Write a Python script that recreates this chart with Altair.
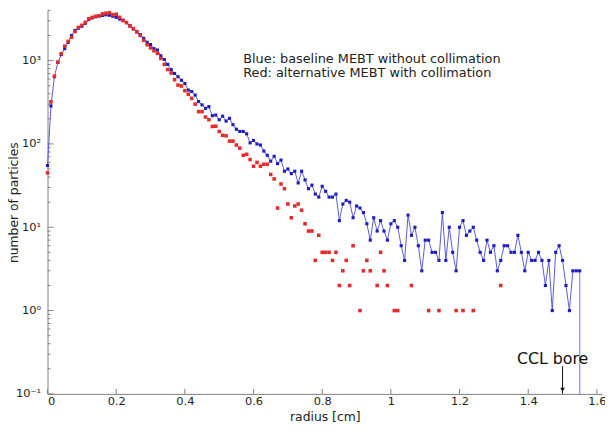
import altair as alt
import pandas as pd

# ---------------- data ----------------
BIN_WIDTH = 0.01  # histogram bin width [cm]

# Blue: baseline MEBT without collimation, bins 0.00 ... 1.55 cm
blue_counts = [
    55, 285, 640, 950, 1180, 1390, 1650, 2000, 2300, 2450,
    2580, 2800, 3100, 3250, 3350, 3420, 3480, 3540, 3500, 3400,
    3300, 3150, 3050, 2850, 2620, 2400, 2200, 2050, 1850, 1660,
    1560, 1390, 1340, 1140, 1030, 900, 780, 700, 640, 580,
    530, 443, 425, 385, 322, 294, 267, 280, 218, 222,
    195, 215, 188, 203, 170, 150, 141, 141, 132, 103,
    110, 100, 97, 82, 73, 62, 71, 58, 64, 47,
    50, 44, 47, 34, 47, 37, 29, 32, 25, 23,
    31, 27, 23, 23, 25, 12, 19, 21, 20, 13,
    18, 17, 15, 11, 7, 13, 9, 12, 9, 7,
    11, 12, 10, 6, 4, 14, 8, 10, 6, 3,
    7, 7, 5, 5, 4, 15, 4, 10, 5, 3,
    10, 12, 8, 9, 10, 7, 5, 4, 7, 5,
    6, 3, 4, 6, 6, 5, 5, 8, 5, 3,
    5, 4, 4, 5, 4, 2, 4, 1, 5, 6,
    4, 2, 1, 3, 3, 3,
]

# Red: alternative MEBT with collimation, bins 0.00 ... 0.89 cm (all non-empty)
red_dense_counts = [
    45, 320, 650, 960, 1210, 1490, 1700, 1900, 2230, 2500,
    2650, 2880, 3170, 3300, 3400, 3450, 3630, 3700, 3750, 3550,
    3600, 3300, 3020, 2860, 2600, 2420, 2230, 2000, 1750, 1550,
    1420, 1310, 1220, 1060, 900, 780, 710, 590, 508, 495,
    435, 395, 352, 300, 244, 244, 210, 195, 162, 163,
    141, 127, 125, 108, 108, 97, 89, 73, 75, 65,
    54, 60, 54, 57, 57, 43, 38, 17, 33, 29,
    19, 13, 18, 19, 16, 11, 9, 9, 4, 8,
    5, 5, 5, 4, 5, 2, 3, 4, 2, 6,
]
# Red tail: only the non-empty bins beyond 0.90 cm
red_sparse_radius = [0.91, 0.92, 0.93, 0.94, 0.96, 0.97, 0.98, 0.99,
                     1.01, 1.02, 1.06, 1.11, 1.14, 1.19, 1.21, 1.24, 1.32]
red_sparse_counts = [1, 3, 4, 3, 2, 5, 3, 2,
                     1, 1, 2, 1, 1, 1, 1, 1, 2]

x_tick_values = [0, 0.2, 0.4, 0.6, 0.8, 1.0, 1.2, 1.4, 1.6]
y_major_values = [0.1, 1, 10, 100, 1000]
y_major_labels = ["10⁻¹", "10⁰", "10¹", "10²", "10³"]
y_minor_multipliers = [2, 3, 4, 5, 6, 7, 8, 9]

legend_lines = ["Blue: baseline MEBT without collimation",
                "Red: alternative MEBT with collimation"]
bore_label = "CCL bore"
bore_radius = 1.5

# ---------------- tables ----------------
blue_df = pd.DataFrame({
    "r": [round(i * BIN_WIDTH, 2) for i in range(len(blue_counts))],
    "n": blue_counts,
})
red_df = pd.DataFrame({
    "r": [round(i * BIN_WIDTH, 2) for i in range(len(red_dense_counts))] + red_sparse_radius,
    "n": red_dense_counts + red_sparse_counts,
})
last_blue = blue_df.tail(1)

Y_MIN, Y_MAX = 0.1, 4000
X_MIN, X_MAX = 0.0, 1.615
PLOT_W, PLOT_H = 561, 388

minor_vals = [m * v for v in y_major_values for m in y_minor_multipliers if m * v <= Y_MAX]
yminor_df = pd.DataFrame({"n": minor_vals})
ymajor_df = pd.DataFrame({"n": y_major_values})
xtick_df = pd.DataFrame({"r": x_tick_values})

legend_df = pd.DataFrame({"r": [0.57, 0.57], "n": [1041, 702], "t": legend_lines})
bore_text_df = pd.DataFrame({"r": [1.367], "n": [0.26], "t": [bore_label]})
arrow_df = pd.DataFrame({"r": [bore_radius], "n": [0.215], "n2": [0.1]})
arrowhead_df = pd.DataFrame({"r": [bore_radius], "n": [0.112]})

# ---------------- scales / axes ----------------
FONT = "DejaVu Sans"
AXIS_GRAY = "#808080"
TEXT = "#222222"

label_expr = ""
for v, lab in zip(y_major_values, y_major_labels):
    label_expr += f"datum.value < {v * 3} ? '{lab}' : "
label_expr += "''"

x_scale = alt.Scale(domain=[X_MIN, X_MAX], nice=False, zero=False)
y_scale = alt.Scale(type="log", domain=[Y_MIN, Y_MAX], nice=False)

x_axis = alt.Axis(
    values=x_tick_values, format="~g", ticks=False, tickSize=0, grid=False,
    domainColor=AXIS_GRAY, domainWidth=1,
    labelFont=FONT, labelFontSize=11.5, labelColor=TEXT, labelPadding=2,
    title="radius [cm]", titleFont=FONT, titleFontSize=12.5, titleFontWeight="normal",
    titleColor=TEXT, titleY=22.5, titleBaseline="middle",
)
y_axis = alt.Axis(
    values=y_major_values, labelExpr=label_expr, ticks=False, tickSize=0, grid=False,
    domainColor=AXIS_GRAY, domainWidth=1,
    labelFont=FONT, labelFontSize=11.5, labelColor=TEXT, labelPadding=7,
    title="number of particles", titleFont=FONT, titleFontSize=12.5,
    titleFontWeight="normal", titleColor=TEXT,
    titleX=-34, titleY=194, titleAngle=270, titleAlign="center", titleBaseline="middle",
)

X = alt.X("r:Q", scale=x_scale, axis=x_axis)
Y = alt.Y("n:Q", scale=y_scale, axis=y_axis)

BLUE_LINE = "#5a5adc"
BLUE_PT = "#1c1cc4"
RED_PT = "#e52a2a"

blue_line = alt.Chart(blue_df).mark_line(color=BLUE_LINE, strokeWidth=1).encode(x=X, y=Y)
blue_drop = alt.Chart(last_blue).mark_rule(color="#8c8ce6", strokeWidth=1.2).encode(
    x=X, y=Y, y2=alt.value(PLOT_H))
blue_pts = alt.Chart(blue_df).mark_square(size=10, color=BLUE_PT, opacity=1).encode(x=X, y=Y)
red_pts = alt.Chart(red_df).mark_square(size=13, color=RED_PT, opacity=1).encode(x=X, y=Y)

ymajor_ticks = alt.Chart(ymajor_df).mark_rule(color=AXIS_GRAY, strokeWidth=1).encode(
    y=Y, x=alt.value(0), x2=alt.value(6))
yminor_ticks = alt.Chart(yminor_df).mark_rule(color=AXIS_GRAY, strokeWidth=1).encode(
    y=Y, x=alt.value(0), x2=alt.value(3))
x_ticks = alt.Chart(xtick_df).mark_rule(color=AXIS_GRAY, strokeWidth=1).encode(
    x=X, y=alt.value(PLOT_H), y2=alt.value(PLOT_H - 5))

legend_text = alt.Chart(legend_df).mark_text(
    align="left", baseline="middle", font=FONT, fontSize=13, color=TEXT
).encode(x=X, y=Y, text="t:N")
bore_text = alt.Chart(bore_text_df).mark_text(
    align="left", baseline="middle", font=FONT, fontSize=16, color="#111111"
).encode(x=X, y=Y, text="t:N")
arrow_line = alt.Chart(arrow_df).mark_rule(color="#111111", strokeWidth=1).encode(
    x=X, y=Y, y2="n2:Q")
arrow_head = alt.Chart(arrowhead_df).mark_point(
    shape="triangle-down", filled=True, size=22, color="#111111", opacity=1
).encode(x=X, y=Y)

chart = alt.layer(
    ymajor_ticks, yminor_ticks, x_ticks,
    blue_line, blue_drop, blue_pts, red_pts,
    legend_text, bore_text, arrow_line, arrow_head,
).properties(
    width=PLOT_W, height=PLOT_H,
    autosize=alt.AutoSizeParams(type="none"),
    padding={"left": 40, "top": 0, "right": 3, "bottom": 27},
    background="white",
).configure_view(stroke=None)

chart.save("out.html", embed_options={"renderer": "svg", "actions": False})
